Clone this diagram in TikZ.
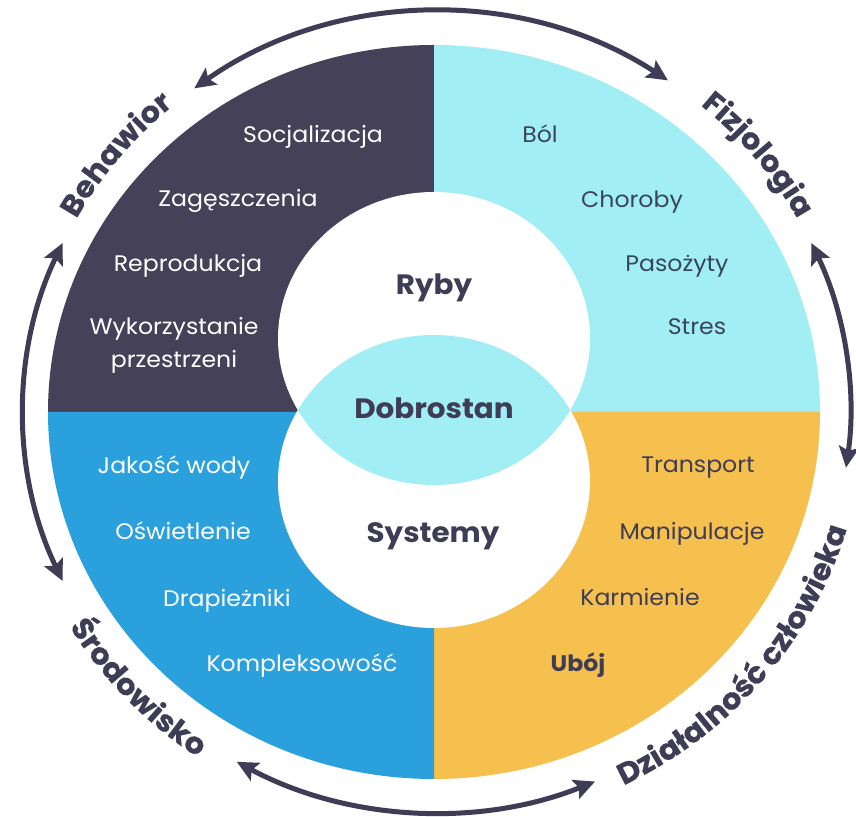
\documentclass[tikz,border=0pt]{standalone}
\usepackage{fontspec}
\setmainfont{Poppins}[FakeStretch=1.05]
\usetikzlibrary{decorations.text,arrows.meta}
\definecolor{navy}{HTML}{454159}
\definecolor{cyanl}{HTML}{A2EEF5}
\definecolor{bluem}{HTML}{2AA0DC}
\definecolor{orangem}{HTML}{F6C04E}
\definecolor{ink}{HTML}{3F3C55}
\definecolor{inkc}{HTML}{3A4658}
\begin{document}
\begin{tikzpicture}[x=1pt,y=1pt,
  lab/.style={font=\fontsize{22.5}{26}\selectfont, anchor=base, inner sep=0pt},
  labw/.style={lab, text=white},
  labd/.style={lab, text=ink},
  labc/.style={lab, text=inkc},
  cen/.style={font=\bfseries\fontsize{28}{32}\selectfont, text=ink, anchor=base, inner sep=0pt},
  arr/.style={draw=ink, line width=5pt, {Stealth[length=21pt,width=20pt,inset=4pt]}-{Stealth[length=21pt,width=20pt,inset=4pt]}},
  outer/.style={decorate, decoration={text along path, text align=center, text color=ink,
     text={|\bfseries\fontsize{29.5}{32}\selectfont\addfontfeature{FakeBold=0.6}|#1}}}
]
\useasboundingbox[fill=white] (0,0) rectangle (856,816);
\coordinate (C) at (434,404);
\coordinate (O) at (437,404);
% quadrants
\fill[navy] (C) -- ++(-386,0) arc[start angle=180,end angle=90,x radius=386,y radius=367] -- cycle;
\fill[cyanl] (C) -- ++(0,367) arc[start angle=90,end angle=0,x radius=386,y radius=367] -- cycle;
\fill[orangem] (C) -- ++(386,0) arc[start angle=0,end angle=-90,x radius=386,y radius=367] -- cycle;
\fill[bluem] (C) -- ++(0,-367) arc[start angle=270,end angle=180,x radius=386,y radius=367] -- cycle;
% inner circles
\coordinate (U) at (434,477.5);
\coordinate (L) at (434,334.5);
\fill[white] (U) ellipse[x radius=156,y radius=146.5];
\fill[white] (L) ellipse[x radius=156,y radius=146.5];
\begin{scope}
  \clip (U) ellipse[x radius=156,y radius=146.5];
  \fill[cyanl] (L) ellipse[x radius=156,y radius=146.5];
\end{scope}
% centre labels
\node[cen] (ryby) at (434,521) {Ryby};
\node[cen] (dobro) at (434,397) {Dobrostan};
\node[cen] (syst) at (433,273) {Systemy};
% behaviour
\node[labw] (soc) at (313,673) {Socjalizacja};
\node[labw] (zag) at (238,609) {Zagęszczenia};
\node[labw] (rep) at (188,544) {Reprodukcja};
\node[labw] (wyk1) at (174,481) {Wykorzystanie};
\node[labw] (wyk2) at (174,448) {przestrzeni};
% physiology
\node[labc] (bol) at (540,673) {Ból};
\node[labc] (cho) at (632,608) {Choroby};
\node[labc] (pas) at (677,544) {Pasożyty};
\node[labc] (str) at (697,481) {Stres};
% environment
\node[labw] (jak) at (174,342) {Jakość wody};
\node[labw] (osw) at (183,276) {Oświetlenie};
\node[labw] (dra) at (227,209) {Drapieżniki};
\node[labw] (kom) at (302,144) {Kompleksowość};
% human activity
\node[labd] (tra) at (698,343) {Transport};
\node[labd] (man) at (692,276) {Manipulacje};
\node[labd] (kar) at (640,210) {Karmienie};
\node[labd, font=\bfseries\fontsize{22.5}{26}\selectfont] (ubo) at (578,144) {Ubój};
% cycle arrows
\draw[arr] (O) ++(126:413 and 400) arc[start angle=126,end angle=56,x radius=413,y radius=400];
\draw[arr] (O) ++(25:413 and 400) arc[start angle=25,end angle=-8,x radius=413,y radius=400];
\draw[arr] (O) ++(292.5:413 and 400) arc[start angle=292.5,end angle=241,x radius=413,y radius=400];
\draw[arr] (O) ++(205:413 and 400) arc[start angle=205,end angle=155,x radius=413,y radius=400];
% outer labels
\path[outer=Behawior] (O) ++(161:412 and 399) arc[start angle=161,end angle=120,x radius=412,y radius=399];
\path[outer=Fizjologia] (O) ++(60:412 and 399) arc[start angle=60,end angle=19,x radius=412,y radius=399];
\path[outer=Środowisko] (O) ++(202:429 and 416) arc[start angle=202,end angle=245,x radius=429,y radius=416];
\path[outer=Działalność człowieka] (O) ++(-81:427 and 415) arc[start angle=-81,end angle=1,x radius=427,y radius=415];
\end{tikzpicture}
\end{document}
